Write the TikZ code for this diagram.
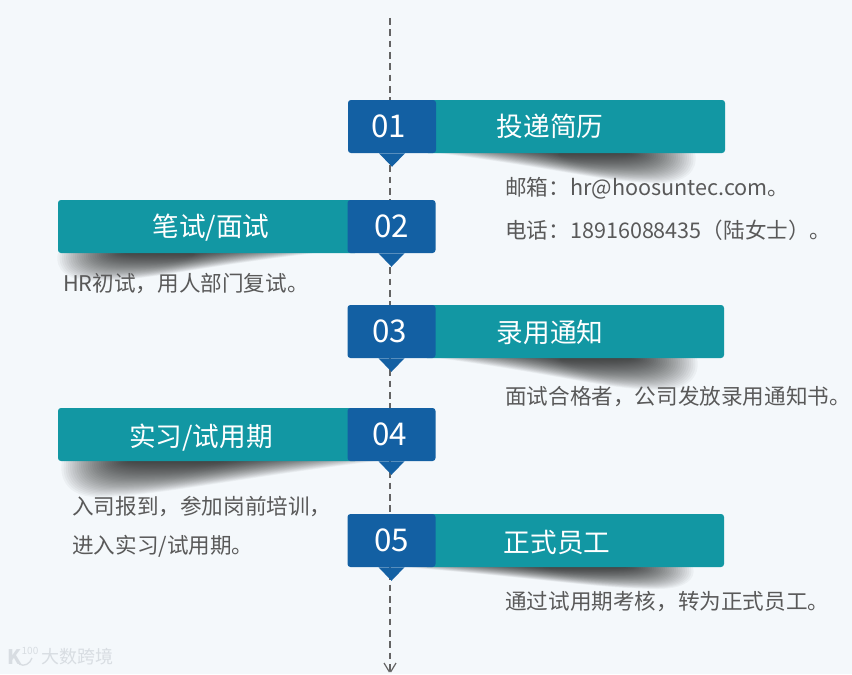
\documentclass[tikz,border=0pt]{standalone}
\usepackage{fontspec}
\setmainfont{Noto Sans CJK SC}
\definecolor{pagebg}{RGB}{244,248,251}
\definecolor{barteal}{RGB}{18,151,163}
\definecolor{numblue}{RGB}{19,96,163}
\definecolor{desctext}{RGB}{89,89,89}
\definecolor{dashgray}{RGB}{100,100,100}
\definecolor{markgray}{RGB}{216,221,226}
\usetikzlibrary{positioning,calc}
\tikzset{
    barbox/.style={rectangle, fill=barteal, rounded corners=2.2pt, minimum width=#1*0.75pt, minimum height=39.75pt, inner sep=0pt},
    numbox/.style={rectangle, fill=numblue, rounded corners=2.2pt, text=white, font=\fontsize{23.5}{23.5}\selectfont, minimum width=66pt, minimum height=39.75pt, inner sep=0pt},
    titletext/.style={text=white, font=\fontsize{20}{20}\selectfont, inner sep=0pt},
    desctextnode/.style={text=desctext, font=\fontsize{16.2}{16.2}\selectfont, anchor=west, inner sep=0pt},
    timeline/.style={draw=dashgray, line width=0.9pt, dash pattern=on 5pt off 3.5pt}
}
% soft wedge under a bar: tip at #1, length #2, depth #3, xscale #4
\newcommand{\wedgeshade}[4]{
    \begin{scope}[shift={#1}, xscale=#4]
        \foreach \i in {0,...,31} {
            \pgfmathsetmacro\tipx{#2*0.5*\i/32}
            \pgfmathsetmacro\endx{#2-70*\i/32}
            \pgfmathsetmacro\dep{#3*(1-\i/32)}
            \fill[black, opacity=0.036] (\tipx,0) -- (\endx,0)
                .. controls (\endx+4,\dep*0.6) and (\endx-10,\dep) .. (\endx-35,\dep)
                .. controls (\endx-90,\dep) and (#2*0.5,\dep*0.55) .. cycle;
        }
    \end{scope}
}
\begin{document}
\begin{tikzpicture}[x=0.75pt,y=-0.75pt]
    \useasboundingbox[fill=pagebg] (0,0) rectangle (852,674);
    % timeline
    \coordinate (linetop) at (390,18);
    \coordinate (lineend) at (390,672);
    \draw[timeline] (linetop) -- (lineend);
    \node[inner sep=0pt] (arrowtip) at (390,673) {};
    \draw[dashgray, line width=0.9pt] (384,663) -- (arrowtip) -- (396,663);

    % shadows
    \wedgeshade{(437,153)}{258}{30}{1}
    \wedgeshade{(437,358)}{260}{32}{1}
    \wedgeshade{(403,567)}{290}{22}{1}
    \wedgeshade{(377,461)}{315}{36}{-1}
    \wedgeshade{(316,253)}{258}{28}{-1}

    % row 1
    \node[barbox=300] (bar1) at (575,126.5) {};
    \node[numbox] (num1) at (392,126.5) {\hspace*{-5pt}01};
    \node[titletext] (title1) at (550,126) {投递简历};
    \fill[numblue] ($(num1.south)+(-13,0)$) -- ++(13,13.5) -- ++(13,-13.5) -- cycle;
    \node[desctextnode] (mail) at (505,188) {邮箱：hr@hoosuntec.com。};
    \node[desctextnode] (phone) at (505,230) {电话：18916088435（陆女士）。};

    % row 2
    \node[barbox=300] (bar2) at (208,226.5) {};
    \node[numbox] (num2) at (391.5,226.5) {\raisebox{-1.5pt}{02}};
    \node[titletext] (title2) at (211,228) {笔试/面试};
    \fill[numblue] ($(num2.south)+(-13,0)$) -- ++(13,13.5) -- ++(13,-13.5) -- cycle;
    \node[desctextnode] (firstround) at (63,284) {HR初试，用人部门复试。};

    % row 3
    \node[barbox=300] (bar3) at (574,331.5) {};
    \node[numbox] (num3) at (391.5,331.5) {\hspace*{-3pt}03};
    \node[titletext] (title3) at (550,332) {录用通知};
    \fill[numblue] ($(num3.south)+(-13,0)$) -- ++(13,13.5) -- ++(13,-13.5) -- cycle;
    \node[desctextnode] (notice) at (505,397) {面试合格者，公司发放录用通知书。};

    % row 4
    \node[barbox=300] (bar4) at (208,434.5) {};
    \node[numbox] (num4) at (391.5,434.5) {\hspace*{-3pt}04};
    \node[titletext] (title4) at (201,437.5) {实习/试用期};
    \fill[numblue] ($(num4.south)+(-13,0)$) -- ++(13,13.5) -- ++(13,-13.5) -- cycle;
    \node[desctextnode] (onboard) at (72,507) {入司报到，参加岗前培训，};
    \node[desctextnode, below=13pt of onboard.south west, anchor=north west] (intern) {进入实习/试用期。};

    % row 5
    \node[barbox=300] (bar5) at (574,540.5) {};
    \node[numbox] (num5) at (391.5,540.5) {05};
    \node[titletext] (title5) at (557,542) {正式员工};
    \fill[numblue] ($(num5.south)+(-13,0)$) -- ++(13,13.5) -- ++(13,-13.5) -- cycle;
    \node[desctextnode] (staff) at (505,602) {通过试用期考核，转为正式员工。};

    % watermark
    \node[text=markgray, font=\bfseries\fontsize{15}{15}\selectfont, inner sep=0pt] (logok) at (15,657) {K};
    \node[text=markgray, font=\fontsize{7.5}{7.5}\selectfont, inner sep=0pt] (logonum) at (30,651) {100};
    \draw[markgray, line width=1pt] (19,664) .. controls (24,667) and (30,664) .. (32,658);
    \node[text=markgray, font=\fontsize{13.5}{13.5}\selectfont, anchor=west, inner sep=0pt] (brand) at (41,657) {大数跨境};
\end{tikzpicture}
\end{document}
